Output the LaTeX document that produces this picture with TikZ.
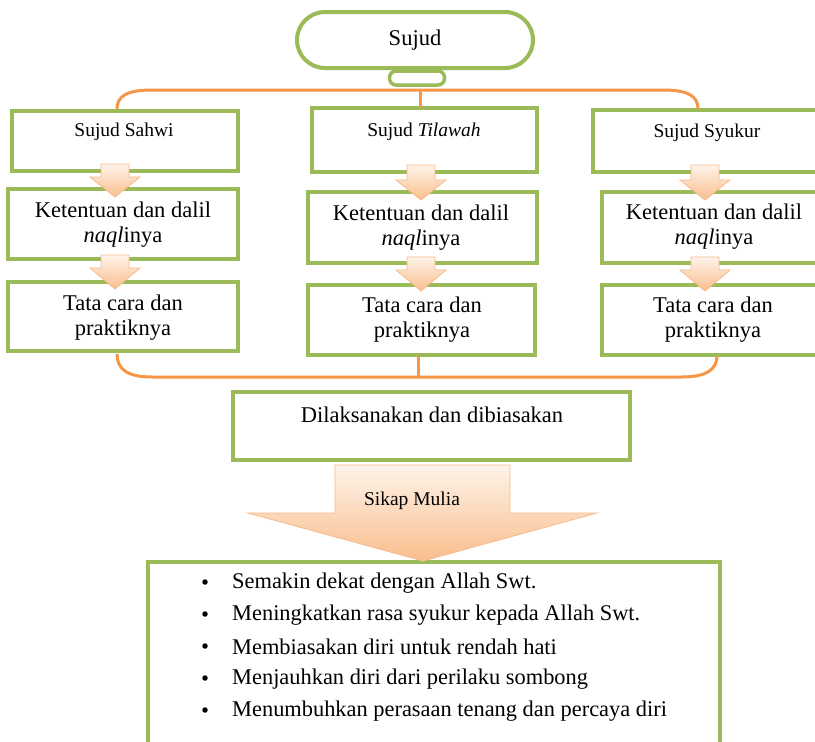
\documentclass[tikz,border=0pt]{standalone}
\usepackage{fontspec}
\setmainfont{Liberation Serif}
\definecolor{grn}{HTML}{9BBB59}
\definecolor{org}{HTML}{F79646}
\definecolor{arrtop}{HTML}{FEF3EA}
\definecolor{arrbot}{HTML}{F9BE8C}
\definecolor{arredge}{HTML}{F8B98C}
\newcommand\downarr[4]{%
  \path[arrowfill] ({#1-14},#2) -- ({#1+14},#2) -- ({#1+14},#3) -- ({#1+25},#3)
    -- (#1,#4) -- ({#1-25},#3) -- ({#1-14},#3) -- cycle;}
\begin{document}
\begin{tikzpicture}[x=1pt,y=-1pt,
  box/.style={draw=grn, line width=3.5pt, fill=white, rectangle, inner sep=0pt},
  ttl/.style={font=\fontsize{19.5}{22}\selectfont, inner sep=0pt},
  body/.style={font=\fontsize{22.5}{25}\selectfont, align=center, inner sep=0pt},
  bul/.style={font=\fontsize{22.4}{26}\selectfont, inner sep=0pt, anchor=west},
  dot/.style={circle, fill=black, minimum size=5.5pt, inner sep=0pt},
  brace/.style={draw=org, line width=3pt},
  arrowfill/.style={draw=arredge, line width=0.8pt, top color=arrtop, bottom color=arrbot}]
\useasboundingbox (0,0) rectangle (815,742);
\clip (0,0) rectangle (815,742);
\fill[white] (0,0) rectangle (815,742);

% top
\node[draw=grn, line width=3.5pt, fill=white, rounded corners=6.5pt,
      minimum width=55pt, minimum height=14pt, inner sep=0pt] (knob) at (417,78) {};
\node[draw=grn, line width=4pt, fill=white, rounded corners=28pt,
      minimum width=236pt, minimum height=56pt, inner sep=0pt,
      font=\fontsize{22.5}{25}\selectfont] (sujud) at (415,40) {Sujud};

% boxes column 1
\node[box, minimum width=226pt, minimum height=60pt] (b11) at (125,141) {};
\node[box, minimum width=230pt, minimum height=70pt] (b12) at (123,224) {};
\node[box, minimum width=230pt, minimum height=69pt] (b13) at (123,316.5) {};
% column 2
\node[box, minimum width=225pt, minimum height=64pt] (b21) at (424.5,140) {};
\node[box, minimum width=229pt, minimum height=71pt] (b22) at (422.5,227.5) {};
\node[box, minimum width=227pt, minimum height=70pt] (b23) at (421.5,320) {};
% column 3
\node[box, minimum width=232pt, minimum height=62pt] (b31) at (709,141) {};
\node[box, minimum width=224pt, minimum height=71pt] (b32) at (714,227.5) {};
\node[box, minimum width=224pt, minimum height=70pt] (b33) at (714,320) {};

% texts
\node[ttl] (t11) at (124,132) {Sujud Sahwi};
\node[body] (t12) at (123,225) {Ketentuan dan dalil\\\textit{naql}inya};
\node[body] (t13) at (123,318) {Tata cara dan\\praktiknya};
\node[ttl] (t21) at (424,132) {Sujud \textit{Tilawah}};
\node[body] (t22) at (421,228) {Ketentuan dan dalil\\\textit{naql}inya};
\node[body] (t23) at (422,320) {Tata cara dan\\praktiknya};
\node[ttl] (t31) at (707,133) {Sujud Syukur};
\node[body] (t32) at (714,227) {Ketentuan dan dalil\\\textit{naql}inya};
\node[body] (t33) at (713,320) {Tata cara dan\\praktiknya};

% top brace
\coordinate (tl) at (117,109);
\coordinate (tm) at (420,108);
\coordinate (tr) at (698,109);
\coordinate (tmt) at (420,90);
\draw[brace] (tl) .. controls (117,96) and (127,90) .. (152,90) -- (663,90)
  .. controls (688,90) and (698,96) .. (tr);
\draw[brace] (tmt) -- (tm);

% bottom brace
\coordinate (bl) at (117,354);
\coordinate (bm) at (418,356);
\coordinate (br) at (717,356);
\coordinate (bmb) at (418,377);
\draw[brace] (bl) .. controls (117,369) and (127,377) .. (152,377) -- (682,377)
  .. controls (707,377) and (717,369) .. (br);
\draw[brace] (bm) -- (bmb);

% small arrows
\downarr{115}{164}{177}{197}
\downarr{115}{255}{268}{289}
\downarr{421}{165}{180}{200}
\downarr{421}{257}{270}{291}
\downarr{705}{165}{180}{200}
\downarr{705}{257}{270}{291}

% Dilaksanakan
\node[box, minimum width=397pt, minimum height=68pt] (dil) at (431.5,426) {};
\node[body] (tdil) at (432,415) {Dilaksanakan dan dibiasakan};

% bottom box
\node[box, minimum width=572pt, minimum height=200pt] (res) at (434,662) {};

% big arrow
\path[arrowfill] (335,465) -- (510,465) -- (510,513) -- (597,513) -- (423,561)
  -- (248,513) -- (335,513) -- cycle;
\node[ttl] (sikap) at (412,501) {Sikap Mulia};

% bullets
\foreach \yy/\txt [count=\i] in {583/Semakin dekat dengan Allah Swt.,
  615/Meningkatkan rasa syukur kepada Allah Swt.,
  647/Membiasakan diri untuk rendah hati,
  679/Menjauhkan diri dari perilaku sombong,
  711/Menumbuhkan perasaan tenang dan percaya diri}{
  \node[dot] (d\i) at (205,{\yy-1}) {};
  \node[bul] (l\i) at (232,\yy) {\txt};
}
\end{tikzpicture}
\end{document}
